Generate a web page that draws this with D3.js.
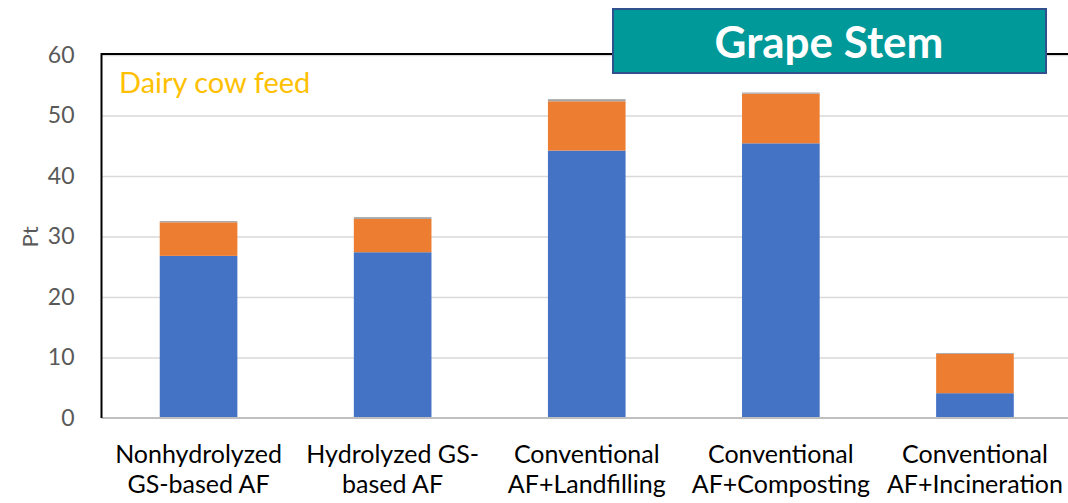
<!DOCTYPE html>
<html>
<head>
<meta charset="utf-8">
<script src="https://cdn.jsdelivr.net/npm/d3@7"></script>
<style>
  html, body { margin: 0; padding: 0; background: #fff; }
  svg { display: block; }
  text { font-family: Lato, "Open Sans", sans-serif; }
</style>
</head>
<body>
<svg id="chart" width="1068" height="503"></svg>
<script>
// Scenarios compared (two-line labels)
const categories = [
  ["Nonhydrolyzed", "GS-based AF"],
  ["Hydrolyzed GS-", "based AF"],
  ["Conventional", "AF+Landfilling"],
  ["Conventional", "AF+Composting"],
  ["Conventional", "AF+Incineration"]
];
// Stacked impact contributions (Pt)
const seriesBlue   = [26.8, 27.4, 44.2, 45.4, 4.1];
const seriesOrange = [5.55, 5.5, 8.15, 8.2, 6.5];
const seriesGrey   = [0.2, 0.3, 0.35, 0.2, 0.15];
const yTicks = [0, 10, 20, 30, 40, 50, 60];
const seriesColors = ["#4472C4", "#ED7D31", "#A5A5A5"];

const svg = d3.select("#chart");
const plot = { left: 101.5, right: 1072, top: 55, bottom: 418 };

const keys = categories.map(c => c.join(" "));
const x = d3.scaleBand().domain(keys).range([plot.left, plot.right]).paddingInner(0.6).paddingOuter(0.3);
const y = d3.scaleLinear().domain([0, 60]).range([plot.bottom, plot.top]);

// Gridlines
const grid = d3.axisLeft(y).tickValues(yTicks.filter(t => t > 0)).tickSize(-(1068 - plot.left)).tickFormat("");
svg.append("g").attr("transform", `translate(${plot.left},0)`).call(grid)
  .call(g => g.select(".domain").remove())
  .call(g => g.selectAll("line").attr("stroke", "#D9D9D9").attr("stroke-width", 1.5));

// Y tick labels
const yAxis = d3.axisLeft(y).tickValues(yTicks).tickSize(0).tickPadding(27);
svg.append("g").attr("transform", `translate(${plot.left},0)`).call(yAxis)
  .call(g => g.select(".domain").remove())
  .call(g => g.selectAll("text").attr("fill", "#595959").style("font-size", "23px").style("font-family", "Lato, sans-serif"));

// Stacked bars
const rows = keys.map((k, i) => ({ key: k, a: seriesBlue[i], b: seriesOrange[i], c: seriesGrey[i] }));
const stacked = d3.stack().keys(["a", "b", "c"])(rows);
svg.append("g").selectAll("g").data(stacked).join("g")
  .attr("fill", (d, i) => seriesColors[i])
  .selectAll("rect").data(d => d).join("rect")
  .attr("x", d => x(d.data.key))
  .attr("width", x.bandwidth())
  .attr("y", d => y(d[1]))
  .attr("height", d => y(d[0]) - y(d[1]));

// Baseline
svg.append("line").attr("x1", plot.left).attr("x2", 1068)
  .attr("y1", y(0)).attr("y2", y(0)).attr("stroke", "#BFBFBF").attr("stroke-width", 2);

// Frame on left and top
svg.append("path")
  .attr("d", `M${plot.left},${y(0)}V${plot.top - 1}H1068`)
  .attr("fill", "none").attr("stroke", "#000").attr("stroke-width", 2);

// Category labels
const xl = svg.append("g");
categories.forEach((lines, i) => {
  const cx = x(keys[i]) + x.bandwidth() / 2;
  const t = xl.append("text").attr("x", cx).attr("text-anchor", "middle")
    .attr("fill", "#000").style("font-size", "25px");
  lines.forEach((ln, j) => t.append("tspan").attr("x", cx).attr("y", 463 + j * 30).text(ln));
});

// Y axis title
svg.append("text").attr("transform", "translate(38,237) rotate(-90)")
  .attr("text-anchor", "middle").attr("fill", "#595959").style("font-size", "22px").text("Pt");

// Inner label
svg.append("text").attr("x", 119).attr("y", 93).attr("fill", "#FFC000")
  .style("font-size", "29px").text("Dairy cow feed");

// Title box
svg.append("rect").attr("x", 613).attr("y", 9).attr("width", 433).attr("height", 64)
  .attr("fill", "#009999").attr("stroke", "#2F528F").attr("stroke-width", 2);
svg.append("text").attr("x", 829).attr("y", 58).attr("text-anchor", "middle")
  .attr("fill", "#fff").style("font-size", "44px").style("font-weight", "bold").text("Grape Stem");
</script>
</body>
</html>
